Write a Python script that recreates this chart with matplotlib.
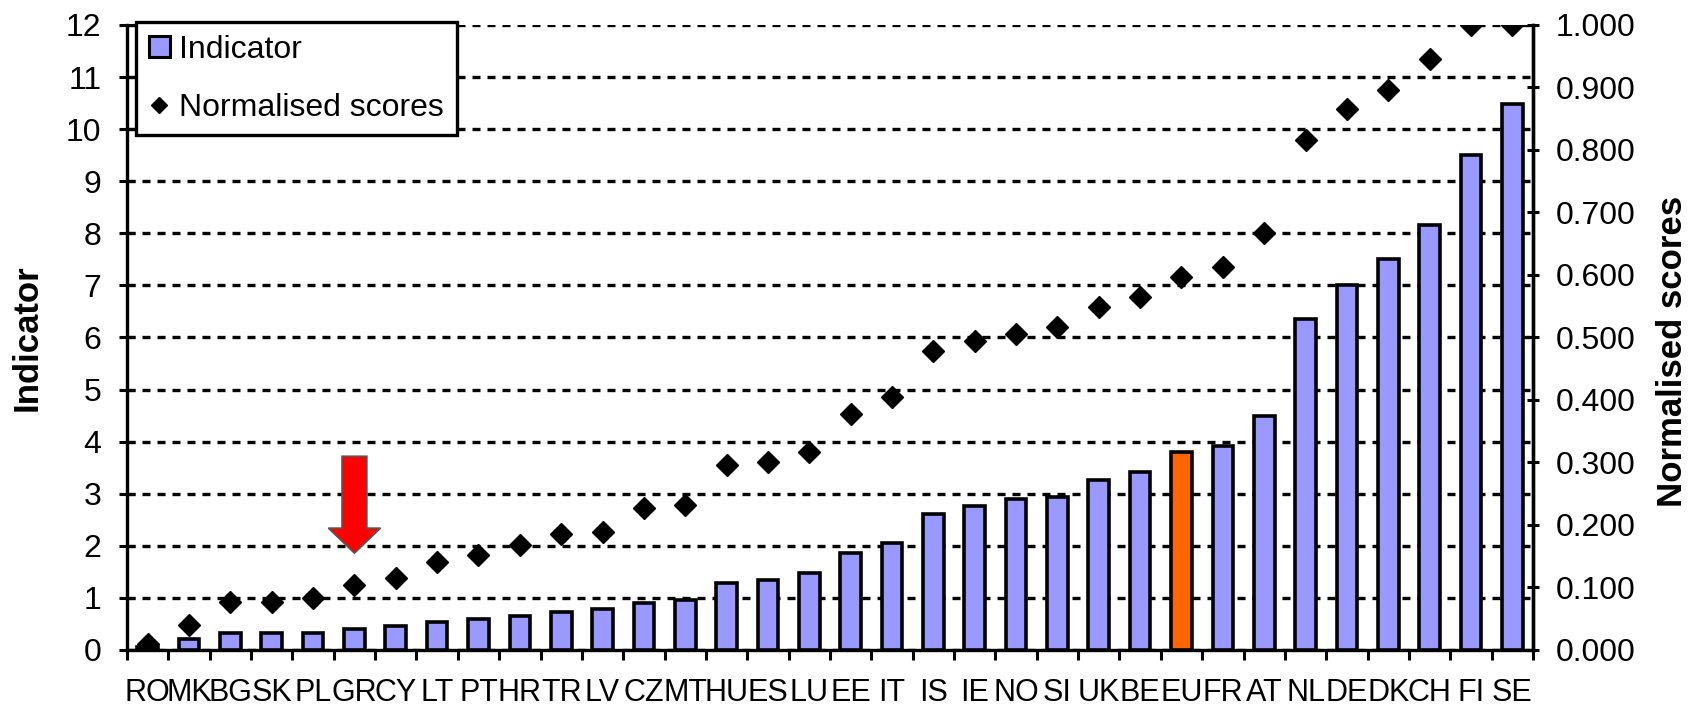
import matplotlib
matplotlib.use('Agg')
import matplotlib.pyplot as plt
from matplotlib.patches import Patch
from matplotlib.lines import Line2D
from matplotlib.ticker import FixedLocator, FuncFormatter
import numpy as np

countries = ['RO', 'MK', 'BG', 'SK', 'PL', 'GR', 'CY', 'LT', 'PT', 'HR', 'TR', 'LV',
             'CZ', 'MT', 'HU', 'ES', 'LU', 'EE', 'IT', 'IS', 'IE', 'NO', 'SI', 'UK',
             'BE', 'EU', 'FR', 'AT', 'NL', 'DE', 'DK', 'CH', 'FI', 'SE']
indicator = [0.05, 0.21, 0.33, 0.33, 0.33, 0.41, 0.46, 0.53, 0.60, 0.66, 0.72, 0.79,
             0.90, 0.96, 1.28, 1.35, 1.48, 1.87, 2.06, 2.62, 2.76, 2.89, 2.94, 3.27,
             3.41, 3.80, 3.92, 4.50, 6.36, 7.00, 7.51, 8.16, 9.50, 10.48]
scores = [0.009, 0.040, 0.077, 0.077, 0.083, 0.104, 0.115, 0.141, 0.152, 0.168, 0.185, 0.189,
          0.227, 0.232, 0.296, 0.301, 0.317, 0.377, 0.404, 0.478, 0.495, 0.505, 0.516, 0.548,
          0.564, 0.596, 0.612, 0.667, 0.816, 0.865, 0.896, 0.945, 1.000, 1.000]
highlight = 'EU'
arrow_country = 'GR'
left_ticks = list(range(0, 13))
right_ticks = [i / 10 for i in range(0, 11)]

BAR_COLOR = '#9999FF'
HIGHLIGHT_COLOR = '#FF6600'

plt.rcParams['font.family'] = ['Liberation Sans', 'DejaVu Sans']

fig = plt.figure(figsize=(17.03, 7.09), dpi=100)
ax = fig.add_axes([0.07457, 0.08322, 0.82560, 0.88152])

x = np.arange(len(countries))
colors = [HIGHLIGHT_COLOR if c == highlight else BAR_COLOR for c in countries]
ax.bar(x, indicator, width=0.5, color=colors, edgecolor='black', linewidth=2.6, zorder=3)

ax.set_xlim(-0.5, len(countries) - 0.5)
ax.set_ylim(0, 12)
ax.set_yticks(left_ticks)
ax.set_yticklabels([str(t) for t in left_ticks], fontsize=23)
ax.tick_params(axis='y', direction='inout', length=11, width=2.2, pad=13)

ax.set_xticks(x)
ax.set_xticklabels(countries, fontsize=22)
ax.tick_params(axis='x', which='major', length=0, pad=20)
ax.xaxis.set_minor_locator(FixedLocator(np.arange(-0.5, len(countries), 1.0)))
ax.tick_params(axis='x', which='minor', direction='out', length=7, width=2.2)

ax.grid(axis='y', color='black', linewidth=2.4, linestyle=(0, (2.4, 2.1)))
ax.set_axisbelow(True)

for s in ['left', 'bottom', 'right']:
    ax.spines[s].set_linewidth(2.4)
ax.spines['top'].set_visible(False)

ax.set_ylabel('Indicator', fontsize=25, fontweight='bold')
ax.yaxis.set_label_coords(-0.059, 0.5)

# red arrow pointing at highlighted country
ai = countries.index(arrow_country)
ax.arrow(ai, 3.72, 0, -1.86, width=0.6, head_width=1.26, head_length=0.48,
         length_includes_head=True, fc='#FF0000', ec='#555555', lw=1.2, zorder=5)

ax2 = ax.twinx()
ax2.plot(x, scores, linestyle='none', marker='D', color='black', markersize=11.5, zorder=4)
ax2.set_ylim(0, 1)
ax2.yaxis.set_major_locator(FixedLocator(right_ticks))
ax2.yaxis.set_major_formatter(FuncFormatter(lambda v, p: f'{v:.3f}'))
ax2.tick_params(axis='y', direction='inout', length=9, width=2.2, pad=12, labelsize=23)
for s in ['left', 'bottom', 'top']:
    ax2.spines[s].set_visible(False)
ax2.spines['right'].set_linewidth(2.4)
ax2.set_ylabel('Normalised scores', fontsize=25, fontweight='bold', rotation=90)
ax2.yaxis.set_label_coords(1.0875, 0.478)

handles = [Patch(facecolor=BAR_COLOR, edgecolor='black', linewidth=2.2),
           Line2D([], [], linestyle='none', marker='D', color='black', markersize=8)]
leg = ax2.legend(handles, ['Indicator', 'Normalised scores'], loc='upper left',
                 bbox_to_anchor=(0.0064, 1.0048), borderaxespad=0, fontsize=23,
                 frameon=True, fancybox=False, framealpha=1, edgecolor='black',
                 borderpad=0.4, labelspacing=0.87, handlelength=0.65, handleheight=0.65,
                 handletextpad=0.3)
leg.get_frame().set_linewidth(2.4)

fig.savefig('out.png', dpi=100)
